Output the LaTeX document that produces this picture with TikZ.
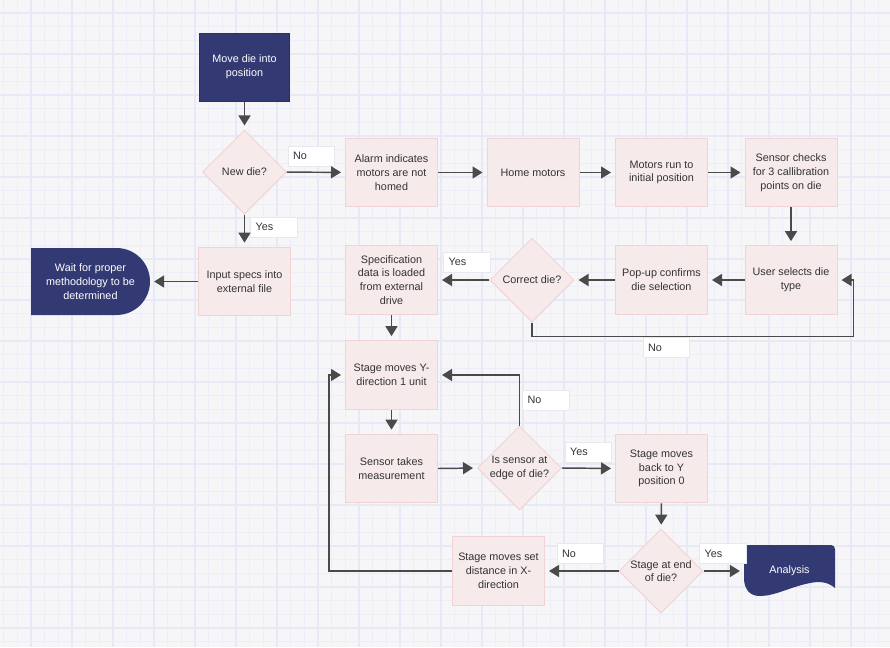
\documentclass[tikz,border=0pt]{standalone}
\usepackage{fontspec}
\setmainfont{Liberation Sans}
\usetikzlibrary{shapes.geometric,arrows.meta}
\definecolor{navy}{HTML}{333A73}
\definecolor{navyline}{HTML}{2A3060}
\definecolor{boxfill}{HTML}{F6EAEB}
\definecolor{boxline}{HTML}{F0D4D5}
\definecolor{bg}{HTML}{F6F6F9}
\definecolor{gridminor}{HTML}{EEEFF6}
\definecolor{gridmajor}{HTML}{E7EAF6}
\definecolor{edgecol}{HTML}{4A4A4A}
\definecolor{txtcol}{HTML}{333333}
\definecolor{lblline}{HTML}{E8E9EF}
\begin{document}
\begin{tikzpicture}[x=0.75pt,y=-0.75pt,
  every node/.style={font=\fontsize{8.1}{10.3}\selectfont},
  proc/.style={draw=boxline, fill=boxfill, line width=0.75pt, minimum width=69pt, minimum height=51.5pt, inner sep=0pt, align=center, text=txtcol},
  term/.style={draw=navyline, fill=navy, line width=0.75pt, minimum width=68pt, minimum height=51pt, inner sep=0pt, align=center, text=white},
  dia/.style={draw=boxline, fill=boxfill, line width=0.75pt, shape=diamond, minimum width=63pt, minimum height=63pt, inner sep=0pt},
  dtext/.style={align=center, text=txtcol},
  lbl/.style={draw=lblline, fill=white, line width=0.6pt, minimum height=15pt, inner xsep=3.75pt, inner ysep=0pt, text width=27.5pt, align=left, text=txtcol},
  arr/.style={draw=edgecol, line width=1.1pt, -{Triangle[length=7.5pt,width=9pt]}, shorten >=3pt},
]
\useasboundingbox (0,0) rectangle (890,647);
\fill[bg] (0,0) rectangle (890,647);
% grid
\foreach \i in {-3,...,63} \draw[gridminor, line width=0.75pt] ({30.7+\i*13.667},0) -- ({30.7+\i*13.667},647);
\foreach \i in {-1,...,47} \draw[gridminor, line width=0.75pt] (0,{13.3+\i*13.667}) -- (890,{13.3+\i*13.667});
\foreach \i in {-1,...,21} \draw[gridmajor, line width=1.5pt] ({30.7+\i*41},0) -- ({30.7+\i*41},647);
\foreach \i in {0,...,15} \draw[gridmajor, line width=1.5pt] (0,{13.3+\i*41}) -- (890,{13.3+\i*41});

% special shapes
\path[fill=navy] (31,248) -- (116.5,248) .. controls (135,248) and (150,263) .. (150,281.5) .. controls (150,300) and (135,315) .. (116.5,315) -- (31,315) -- cycle;
\path[fill=navy] (744,580) [rounded corners=3pt] -- (744,545) -- (835,545) [sharp corners] -- (835,588) .. controls (828,582) and (820,581) .. (810,583) .. controls (790,587) and (775,596) .. (760,596) .. controls (750,596) and (745,590) .. (744,580) -- cycle;

% nodes
\node[term] (move) at (244.5,67) {Move die into\\position};
\node[dia] (newdie) at (244.5,172) {};
\node[dtext] at (newdie) {New die?};
\node[proc] (alarm) at (391.5,172.5) {Alarm indicates\\motors are not\\homed};
\node[proc] (home) at (533,172.5) {Home motors};
\node[proc] (run) at (661.5,172.5) {Motors run to\\initial position};
\node[proc] (check) at (791,172.5) {Sensor checks\\for 3 callibration\\points on die};
\node[proc] (user) at (791,280) {User selects die\\type};
\node[proc] (popup) at (661.5,280) {Pop-up confirms\\die selection};
\node[dia] (correct) at (532,280) {};
\node[dtext] at (correct) {Correct die?};
\node[proc] (spec) at (391.5,280) {Specification\\data is loaded\\from external\\drive};
\node[proc] (input) at (244.5,281.5) {Input specs into\\external file};
\node[minimum width=89pt, minimum height=50pt, inner sep=0pt, align=center, text=white] (wait) at (90.5,281.5) {Wait for proper\\methodology to be\\determined};
\node[proc] (stagey) at (391.5,375) {Stage moves Y-\\direction 1 unit};
\node[proc] (meas) at (391.5,468.5) {Sensor takes\\measurement};
\node[dia] (edge) at (519.5,468) {};
\node[dtext] at (edge) {Is sensor at\\edge of die?};
\node[proc] (back) at (661.5,468.5) {Stage moves\\back to Y\\position 0};
\node[dia] (endd) at (661,571) {};
\node[dtext] at (endd) {Stage at end\\of die?};
\node[proc] (setx) at (498.5,571) {Stage moves set\\distance in X-\\direction};
\node[minimum width=68pt, minimum height=34pt, inner sep=0pt, text=white] (analysis) at (789.5,571) {Analysis};

% labels
\node[lbl] (l1) at (311.5,156) {No};
\node[lbl] (l2) at (274,227) {Yes};
\node[lbl] (l3) at (467,262) {Yes};
\node[lbl] (l4) at (666.5,347.5) {No};
\node[lbl] (l5) at (546,400) {No};
\node[lbl] (l6) at (588.5,452) {Yes};
\node[lbl] (l7) at (580.5,553.5) {No};
\node[lbl] (l8) at (723,553.5) {Yes};

% connectors
\draw[arr] (move) -- (newdie);
\draw[arr] (newdie) -- (alarm);
\draw[arr] (newdie) -- (input);
\draw[arr] (alarm) -- (home);
\draw[arr] (home) -- (run);
\draw[arr] (run) -- (check);
\draw[arr] (check) -- (user);
\draw[arr] (user) -- (popup);
\draw[arr] (popup) -- (correct);
\draw[arr] (correct) -- (spec);
\draw[arr] (correct.south) -- ++(0,14) -| ([xshift=12pt]user.east) -- (user.east);
\draw[arr] (input) -- (wait.east);
\draw[arr] (spec) -- (stagey);
\draw[arr] (stagey) -- (meas);
\draw[arr] (meas.east) -- (edge.west);
\draw[arr] (edge.north) |- (stagey.east);
\draw[arr] (edge.east) -- (back.west);
\draw[arr] (back) -- (endd);
\draw[arr] (endd.west) -- (setx.east);
\draw[arr] (endd.east) -- (analysis.west);
\draw[arr] (setx.west) -- ++(-123,0) |- (stagey.west);
\end{tikzpicture}
\end{document}
